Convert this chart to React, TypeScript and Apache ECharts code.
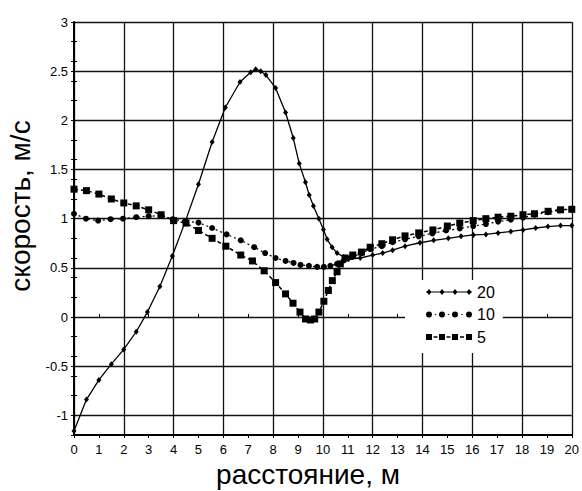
import React, { useEffect, useRef } from 'react';
import * as echarts from 'echarts';

const FONT = '"Liberation Sans", Arial, Helvetica, sans-serif';

// series "20"
const s20: [number, number][] = [
  [0, -1.16], [0.5, -0.84], [1, -0.64], [1.5, -0.48], [2, -0.33], [2.5, -0.15],
  [2.95, 0.05], [3.45, 0.31], [3.95, 0.62], [4.47, 0.97], [5.0, 1.35], [5.55, 1.78],
  [6.08, 2.13], [6.67, 2.39], [7.1, 2.49], [7.3, 2.52], [7.5, 2.5], [7.71, 2.46],
  [8.1, 2.33], [8.5, 2.08], [8.81, 1.82], [9.05, 1.56], [9.3, 1.37], [9.45, 1.24],
  [9.62, 1.13], [9.84, 1.0], [10.02, 0.89], [10.17, 0.79], [10.37, 0.71], [10.57, 0.65],
  [10.84, 0.61], [11.04, 0.59], [11.5, 0.6], [12.0, 0.63], [12.4, 0.65], [12.8, 0.68],
  [13.3, 0.72], [13.9, 0.755], [14.45, 0.78], [15.04, 0.8], [15.55, 0.82], [16.05, 0.835],
  [16.55, 0.84], [17.04, 0.855], [17.55, 0.87], [18.04, 0.885], [18.55, 0.905],
  [19.04, 0.92], [19.55, 0.93], [20, 0.93],
];

// series "10"
const s10: [number, number][] = [
  [0, 1.05], [0.48, 1.0], [0.97, 0.98], [1.47, 0.995], [1.97, 1.0], [2.5, 1.015],
  [3.0, 1.025], [3.48, 1.03], [3.97, 0.995], [4.48, 0.975], [5.0, 0.96], [5.55, 0.905],
  [6.13, 0.84], [6.7, 0.78], [7.24, 0.71], [7.68, 0.65], [8.1, 0.6], [8.5, 0.57],
  [8.82, 0.55], [9.1, 0.53], [9.44, 0.52], [9.77, 0.51], [10.04, 0.51], [10.3, 0.52],
  [10.57, 0.54], [10.84, 0.575], [11.17, 0.61], [11.57, 0.65], [11.9, 0.69], [12.37, 0.72],
  [12.8, 0.76], [13.3, 0.79], [13.85, 0.82], [14.4, 0.85], [14.95, 0.88], [15.5, 0.9],
  [16.04, 0.925], [16.55, 0.945], [17.04, 0.97], [17.55, 0.99], [18.04, 1.01], [18.5, 1.04],
  [19.04, 1.065], [19.5, 1.085], [20, 1.1],
];

// series "5"
const s5: [number, number][] = [
  [0, 1.3], [0.5, 1.285], [1, 1.25], [1.5, 1.2], [2, 1.16], [2.5, 1.13], [3, 1.09],
  [3.5, 1.04], [4, 0.98], [4.5, 0.955], [5, 0.88], [5.55, 0.8], [6.1, 0.72], [6.7, 0.63],
  [7.17, 0.57], [7.64, 0.47], [8.1, 0.35], [8.5, 0.235], [8.8, 0.14], [9.08, 0.05],
  [9.3, -0.02], [9.5, -0.03], [9.67, -0.02], [9.84, 0.05], [10.04, 0.16], [10.22, 0.27],
  [10.38, 0.37], [10.57, 0.46], [10.7, 0.54], [10.9, 0.6], [11.2, 0.63], [11.55, 0.66],
  [11.9, 0.71], [12.37, 0.745], [12.8, 0.785], [13.3, 0.825], [13.85, 0.855], [14.42, 0.885],
  [15.0, 0.925], [15.5, 0.955], [16.04, 0.98], [16.55, 1.0], [17.04, 1.015], [17.55, 1.025],
  [18.04, 1.04], [18.5, 1.05], [19.05, 1.075], [19.55, 1.09], [20, 1.095],
];

const seriesNames = ['20', '10', '5'];
const yLabelValues = [-1, -0.5, 0, 0.5, 1, 1.5, 2, 2.5, 3];
const xTitle = 'расстояние, м';
const yTitle = 'скорость, м/с';

const centers = [3, 16, 29, 43];
const diamond = (c: number) => `M${c - 2.5} 3L${c} 0L${c + 2.5} 3L${c} 6Z`;
const circle = (c: number) => `M${c - 3} 3A3 3 0 1 1 ${c + 3} 3A3 3 0 1 1 ${c - 3} 3Z`;
const square = (c: number) => `M${c - 3} 0H${c + 3}V6H${c - 3}Z`;
const dash = (a: number, b: number, h: number) => `M${a} ${3 - h}H${b}V${3 + h}H${a}Z`;

const icon20 = 'path://' + dash(0, 46, 0.5) + centers.map(diamond).join('');
const icon10 = 'path://' + circle(3) + circle(16) + circle(29) + circle(43) +
  dash(8.8, 10.2, 0.6) + dash(21.8, 23.2, 0.6) + dash(35.3, 36.7, 0.6);
const icon5 = 'path://' + square(3) + square(16) + square(29) + square(43) +
  dash(7.5, 11.5, 0.7) + dash(20.5, 24.5, 0.7) + dash(34, 38, 0.7);

export default function App() {
  const ref = useRef<HTMLDivElement>(null);
  useEffect(() => {
    const chart = echarts.init(ref.current!, null, { renderer: 'svg' });
    const gridLine = { color: '#111', width: 1.3 };
    const baseX = { type: 'value', min: 0, max: 20, position: 'bottom' };
    const baseY = { type: 'value', min: -1.2, max: 3, position: 'left' };
    chart.setOption({
      animation: false,
      backgroundColor: '#fff',
      grid: { left: 74, top: 22, right: 8, bottom: 56, containLabel: false },
      xAxis: [
        {
          ...baseX, interval: 1,
          axisLine: { show: true, onZero: false, lineStyle: { color: '#000', width: 2 } },
          axisTick: { show: true, length: 3, lineStyle: { color: '#000', width: 1 } },
          axisLabel: { fontSize: 13, color: '#000', margin: 8, fontFamily: FONT },
          splitLine: { show: false },
        },
        {
          ...baseX, interval: 1,
          axisLine: { show: false },
          axisTick: { show: true, inside: true, length: 3, lineStyle: { color: '#000', width: 1 } },
          axisLabel: { show: false },
          splitLine: { show: false },
        },
        {
          ...baseX, interval: 2,
          axisLine: { show: false },
          axisTick: { show: false },
          axisLabel: { show: false },
          splitLine: { show: true, lineStyle: gridLine },
        },
      ],
      yAxis: [
        {
          ...baseY,
          axisLine: { show: true, onZero: false, lineStyle: { color: '#000', width: 2 } },
          axisTick: { show: true, length: 3, customValues: yLabelValues, lineStyle: { color: '#000', width: 1 } },
          axisLabel: { customValues: yLabelValues, fontSize: 13, color: '#000', margin: 6, fontFamily: FONT },
          splitLine: { show: true, lineStyle: gridLine },
        },
        {
          ...baseY, interval: 0.2,
          axisLine: { show: false },
          axisTick: { show: true, length: 3, lineStyle: { color: '#000', width: 1 } },
          axisLabel: { show: false },
          splitLine: { show: false },
        },
        {
          ...baseY, interval: 0.2,
          axisLine: { show: false },
          axisTick: { show: true, inside: true, length: 3, lineStyle: { color: '#000', width: 1 } },
          axisLabel: { show: false },
          splitLine: { show: false },
        },
      ],
      legend: {
        orient: 'vertical', left: 405, top: 280, padding: [4, 8, 8, 21],
        backgroundColor: '#fff', itemWidth: 46, itemHeight: 6, itemGap: 6.5,
        selectedMode: false,
        textStyle: { fontSize: 16, color: '#000', fontFamily: FONT, lineHeight: 16 },
        data: [
          { name: seriesNames[0], icon: icon20 },
          { name: seriesNames[1], icon: icon10 },
          { name: seriesNames[2], icon: icon5 },
        ],
      },
      series: [
        {
          name: seriesNames[0], type: 'line', data: s20, symbol: 'diamond', symbolSize: [5, 6],
          itemStyle: { color: '#000' }, lineStyle: { color: '#000', width: 1.3 },
        },
        {
          name: seriesNames[1], type: 'line', data: s10, symbol: 'circle', symbolSize: 6,
          itemStyle: { color: '#000' }, lineStyle: { color: '#000', width: 1.2, type: [2, 3] },
        },
        {
          name: seriesNames[2], type: 'line', data: s5, symbol: 'rect', symbolSize: 7,
          itemStyle: { color: '#000' }, lineStyle: { color: '#000', width: 1.5, type: [4, 3] },
        },
      ],
      graphic: [
        {
          type: 'text', x: 308, y: 474,
          style: {
            text: xTitle, fontSize: 28, fontFamily: FONT, fill: '#000',
            align: 'center', verticalAlign: 'middle', textAlign: 'center', textVerticalAlign: 'middle',
          },
        },
        {
          type: 'text', x: 20, y: 206, rotation: Math.PI / 2,
          style: {
            text: yTitle, fontSize: 28, fontFamily: FONT, fill: '#000',
            align: 'center', verticalAlign: 'middle', textAlign: 'center', textVerticalAlign: 'middle',
          },
        },
      ],
    });
    return () => chart.dispose();
  }, []);
  return (
    <div
      ref={ref}
      style={{ position: 'absolute', left: 0, top: 0, width: 582, height: 491, background: '#fff' }}
    />
  );
}
